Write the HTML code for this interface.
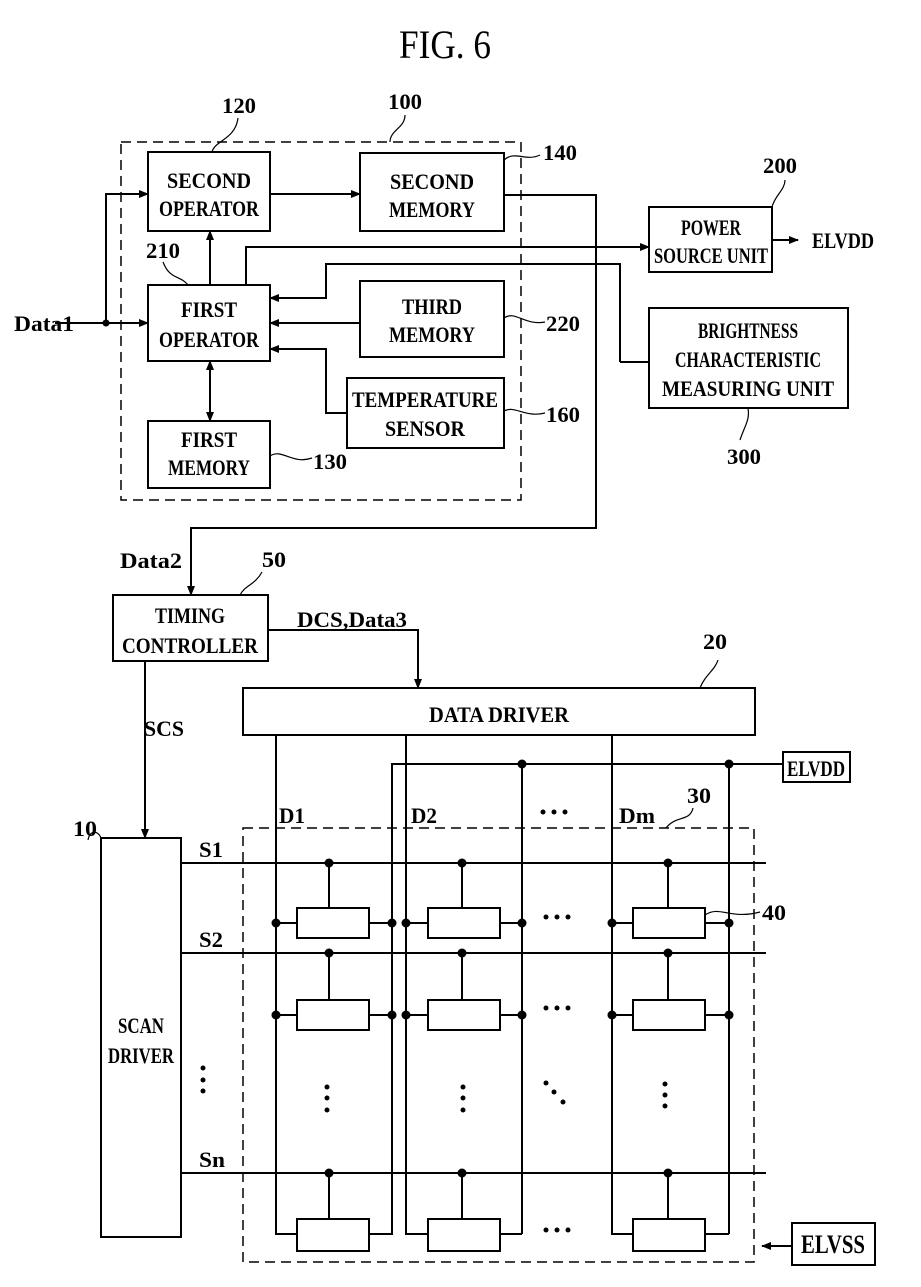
<!DOCTYPE html>
<html><head><meta charset="utf-8"><style>html,body{margin:0;padding:0;background:#fff}svg{display:block}</style></head>
<body>
<svg width="921" height="1287" viewBox="0 0 921 1287" xmlns="http://www.w3.org/2000/svg" font-family="Liberation Serif, serif" font-size="22" font-weight="bold">
<defs><marker id="a" markerWidth="10" markerHeight="8" refX="9" refY="4" orient="auto" markerUnits="userSpaceOnUse"><path d="M0,0 L10,4 L0,8 z" fill="#000"/></marker></defs>
<g fill="none" stroke="#000" stroke-width="2">
<rect x="121" y="142" width="400" height="358" stroke-dasharray="10,6" stroke-width="1.5"/>
<rect x="243" y="828" width="511" height="434" stroke-dasharray="10,6" stroke-width="1.5"/>
<rect x="148" y="152" width="122" height="79"/>
<rect x="360" y="153" width="144" height="78"/>
<rect x="148" y="285" width="122" height="76"/>
<rect x="360" y="281" width="144" height="76"/>
<rect x="347" y="378" width="157" height="70"/>
<rect x="148" y="421" width="122" height="67"/>
<rect x="649" y="207" width="123" height="65"/>
<rect x="649" y="308" width="199" height="100"/>
<rect x="113" y="595" width="155" height="66"/>
<rect x="243" y="688" width="512" height="47"/>
<rect x="101" y="838" width="80" height="399"/>
<rect x="783" y="752" width="67" height="30"/>
<rect x="792" y="1223" width="83" height="42"/>
<line x1="55" y1="323" x2="148" y2="323" marker-end="url(#a)"/>
<polyline points="106,323 106,194 148,194" marker-end="url(#a)"/>
<line x1="270" y1="194" x2="360" y2="194" marker-end="url(#a)"/>
<polyline points="504,195 596,195 596,528 191,528 191,595" marker-end="url(#a)"/>
<line x1="210" y1="285" x2="210" y2="231" marker-end="url(#a)"/>
<polyline points="246,285 246,247 649,247" marker-end="url(#a)"/>
<polyline points="620,362 649,362"/>
<polyline points="620,362 620,264 326,264 326,298 270,298" marker-end="url(#a)"/>
<line x1="360" y1="323" x2="270" y2="323" marker-end="url(#a)"/>
<polyline points="347,413 326,413 326,349 270,349" marker-end="url(#a)"/>
<line x1="210" y1="361" x2="210" y2="421" marker-end="url(#a)"/>
<line x1="210" y1="421" x2="210" y2="361" marker-end="url(#a)"/>
<line x1="772" y1="240" x2="798" y2="240" marker-end="url(#a)"/>
<path d="M212,152 C215,140 235,140 238,118" stroke-width="1.2"/>
<path d="M390,142 C390,130 405,128 405,115" stroke-width="1.2"/>
<path d="M504,160 C515,150 525,162 540,155" stroke-width="1.2"/>
<path d="M163,262 C170,280 180,275 188,285" stroke-width="1.2"/>
<path d="M504,318 C515,310 525,326 545,322" stroke-width="1.2"/>
<path d="M504,411 C515,405 525,418 545,413" stroke-width="1.2"/>
<path d="M270,456 C282,448 292,465 312,458" stroke-width="1.2"/>
<path d="M740,440 C745,425 750,420 748,408" stroke-width="1.2"/>
<path d="M772,207 C775,195 785,190 785,180" stroke-width="1.2"/>
<path d="M240,595 C245,585 255,585 262,572" stroke-width="1.2"/>
<path d="M700,688 C705,675 715,670 718,660" stroke-width="1.2"/>
<path d="M101,838 C98,830 90,830 88,840" stroke-width="1.2"/>
<path d="M666,828 C676,815 690,822 693,808" stroke-width="1.2"/>
<path d="M705,915 C720,905 730,920 760,912" stroke-width="1.2"/>
<polyline points="268,630 418,630 418,688" marker-end="url(#a)"/>
<line x1="145" y1="661" x2="145" y2="838" marker-end="url(#a)"/>
<line x1="792" y1="1246" x2="762" y2="1246" marker-end="url(#a)"/>
<polyline points="783,764 392,764 392,1234 370,1234"/>
<line x1="522" y1="764" x2="522" y2="1234"/>
<line x1="729" y1="764" x2="729" y2="1234"/>
<line x1="522" y1="1234" x2="500" y2="1234"/>
<line x1="729" y1="1234" x2="705" y2="1234"/>
<polyline points="276,735 276,1234 297,1234"/>
<polyline points="406,735 406,1234 428,1234"/>
<polyline points="612,735 612,1234 633,1234"/>
<line x1="181" y1="863" x2="766" y2="863"/>
<line x1="181" y1="953" x2="766" y2="953"/>
<line x1="181" y1="1173" x2="766" y2="1173"/>
</g>
<g fill="#fff" stroke="#000" stroke-width="2">
<rect x="297" y="908" width="72" height="30"/><rect x="428" y="908" width="72" height="30"/><rect x="633" y="908" width="72" height="30"/>
<rect x="297" y="1000" width="72" height="30"/><rect x="428" y="1000" width="72" height="30"/><rect x="633" y="1000" width="72" height="30"/>
<rect x="297" y="1219" width="72" height="32"/><rect x="428" y="1219" width="72" height="32"/><rect x="633" y="1219" width="72" height="32"/>
</g>
<g stroke="#000" stroke-width="2">
<line x1="329" y1="863" x2="329" y2="908"/><line x1="462" y1="863" x2="462" y2="908"/><line x1="668" y1="863" x2="668" y2="908"/>
<line x1="329" y1="953" x2="329" y2="1000"/><line x1="462" y1="953" x2="462" y2="1000"/><line x1="668" y1="953" x2="668" y2="1000"/>
<line x1="329" y1="1173" x2="329" y2="1219"/><line x1="462" y1="1173" x2="462" y2="1219"/><line x1="668" y1="1173" x2="668" y2="1219"/>
<line x1="276" y1="923" x2="297" y2="923"/><line x1="369" y1="923" x2="392" y2="923"/>
<line x1="406" y1="923" x2="428" y2="923"/><line x1="500" y1="923" x2="522" y2="923"/>
<line x1="612" y1="923" x2="633" y2="923"/><line x1="705" y1="923" x2="729" y2="923"/>
<line x1="276" y1="1015" x2="297" y2="1015"/><line x1="369" y1="1015" x2="392" y2="1015"/>
<line x1="406" y1="1015" x2="428" y2="1015"/><line x1="500" y1="1015" x2="522" y2="1015"/>
<line x1="612" y1="1015" x2="633" y2="1015"/><line x1="705" y1="1015" x2="729" y2="1015"/>
</g>
<g fill="#000">
<circle cx="106" cy="323" r="3.5"/>
<circle cx="522" cy="764" r="4.5"/><circle cx="729" cy="764" r="4.5"/>
<circle cx="329" cy="863" r="4.5"/><circle cx="462" cy="863" r="4.5"/><circle cx="668" cy="863" r="4.5"/>
<circle cx="329" cy="953" r="4.5"/><circle cx="462" cy="953" r="4.5"/><circle cx="668" cy="953" r="4.5"/>
<circle cx="329" cy="1173" r="4.5"/><circle cx="462" cy="1173" r="4.5"/><circle cx="668" cy="1173" r="4.5"/>
<circle cx="276" cy="923" r="4.5"/><circle cx="392" cy="923" r="4.5"/><circle cx="406" cy="923" r="4.5"/><circle cx="522" cy="923" r="4.5"/><circle cx="612" cy="923" r="4.5"/><circle cx="729" cy="923" r="4.5"/>
<circle cx="276" cy="1015" r="4.5"/><circle cx="392" cy="1015" r="4.5"/><circle cx="406" cy="1015" r="4.5"/><circle cx="522" cy="1015" r="4.5"/><circle cx="612" cy="1015" r="4.5"/><circle cx="729" cy="1015" r="4.5"/>
<circle cx="543" cy="812" r="2.5"/><circle cx="554" cy="812" r="2.5"/><circle cx="565" cy="812" r="2.5"/>
<circle cx="546" cy="917" r="2.5"/><circle cx="557" cy="917" r="2.5"/><circle cx="568" cy="917" r="2.5"/>
<circle cx="546" cy="1008" r="2.5"/><circle cx="557" cy="1008" r="2.5"/><circle cx="568" cy="1008" r="2.5"/>
<circle cx="546" cy="1230" r="2.5"/><circle cx="557" cy="1230" r="2.5"/><circle cx="568" cy="1230" r="2.5"/>
<circle cx="203" cy="1068" r="2.5"/><circle cx="203" cy="1080" r="2.5"/><circle cx="203" cy="1091" r="2.5"/>
<circle cx="327" cy="1087" r="2.5"/><circle cx="327" cy="1098" r="2.5"/><circle cx="327" cy="1110" r="2.5"/>
<circle cx="463" cy="1087" r="2.5"/><circle cx="463" cy="1098" r="2.5"/><circle cx="463" cy="1110" r="2.5"/>
<circle cx="546" cy="1083" r="2.5"/><circle cx="554" cy="1092" r="2.5"/><circle cx="563" cy="1102" r="2.5"/>
<circle cx="665" cy="1084" r="2.5"/><circle cx="665" cy="1095" r="2.5"/><circle cx="665" cy="1106" r="2.5"/>
</g>
<g fill="#000" text-anchor="middle">
<text x="445" y="58" font-size="40" font-weight="normal" textLength="92" lengthAdjust="spacingAndGlyphs">FIG. 6</text>
<text x="209" y="188" textLength="84" lengthAdjust="spacingAndGlyphs">SECOND</text>
<text x="209" y="216" textLength="100" lengthAdjust="spacingAndGlyphs">OPERATOR</text>
<text x="432" y="189" textLength="84" lengthAdjust="spacingAndGlyphs">SECOND</text>
<text x="432" y="217" textLength="86" lengthAdjust="spacingAndGlyphs">MEMORY</text>
<text x="209" y="317" textLength="56" lengthAdjust="spacingAndGlyphs">FIRST</text>
<text x="209" y="347" textLength="100" lengthAdjust="spacingAndGlyphs">OPERATOR</text>
<text x="432" y="314" textLength="60" lengthAdjust="spacingAndGlyphs">THIRD</text>
<text x="432" y="342" textLength="86" lengthAdjust="spacingAndGlyphs">MEMORY</text>
<text x="425" y="407" textLength="146" lengthAdjust="spacingAndGlyphs">TEMPERATURE</text>
<text x="425" y="436" textLength="80" lengthAdjust="spacingAndGlyphs">SENSOR</text>
<text x="209" y="447" textLength="56" lengthAdjust="spacingAndGlyphs">FIRST</text>
<text x="209" y="475" textLength="82" lengthAdjust="spacingAndGlyphs">MEMORY</text>
<text x="711" y="235" textLength="60" lengthAdjust="spacingAndGlyphs">POWER</text>
<text x="711" y="263" textLength="114" lengthAdjust="spacingAndGlyphs">SOURCE UNIT</text>
<text x="748" y="338" textLength="100" lengthAdjust="spacingAndGlyphs">BRIGHTNESS</text>
<text x="748" y="367" textLength="146" lengthAdjust="spacingAndGlyphs">CHARACTERISTIC</text>
<text x="748" y="396" textLength="172" lengthAdjust="spacingAndGlyphs">MEASURING UNIT</text>
<text x="190" y="623" textLength="70" lengthAdjust="spacingAndGlyphs">TIMING</text>
<text x="190" y="653" textLength="136" lengthAdjust="spacingAndGlyphs">CONTROLLER</text>
<text x="499" y="722" textLength="140" lengthAdjust="spacingAndGlyphs">DATA DRIVER</text>
<text x="141" y="1033" textLength="46" lengthAdjust="spacingAndGlyphs">SCAN</text>
<text x="141" y="1063" textLength="66" lengthAdjust="spacingAndGlyphs">DRIVER</text>
<text x="816" y="776" textLength="58" lengthAdjust="spacingAndGlyphs">ELVDD</text>
<text x="833" y="1253" font-size="26" textLength="64" lengthAdjust="spacingAndGlyphs">ELVSS</text>
</g>
<g fill="#000">
<text x="14" y="331" textLength="60" lengthAdjust="spacingAndGlyphs">Data1</text>
<text x="812" y="248" textLength="62" lengthAdjust="spacingAndGlyphs">ELVDD</text>
<text x="222" y="113" textLength="34" lengthAdjust="spacingAndGlyphs">120</text>
<text x="388" y="109" textLength="34" lengthAdjust="spacingAndGlyphs">100</text>
<text x="543" y="160" textLength="34" lengthAdjust="spacingAndGlyphs">140</text>
<text x="146" y="258" textLength="34" lengthAdjust="spacingAndGlyphs">210</text>
<text x="546" y="331" textLength="34" lengthAdjust="spacingAndGlyphs">220</text>
<text x="546" y="422" textLength="34" lengthAdjust="spacingAndGlyphs">160</text>
<text x="313" y="469" textLength="34" lengthAdjust="spacingAndGlyphs">130</text>
<text x="763" y="173" textLength="34" lengthAdjust="spacingAndGlyphs">200</text>
<text x="727" y="464" textLength="34" lengthAdjust="spacingAndGlyphs">300</text>
<text x="120" y="568" textLength="62" lengthAdjust="spacingAndGlyphs">Data2</text>
<text x="262" y="567" textLength="24" lengthAdjust="spacingAndGlyphs">50</text>
<text x="297" y="627" textLength="110" lengthAdjust="spacingAndGlyphs">DCS,Data3</text>
<text x="703" y="649" textLength="24" lengthAdjust="spacingAndGlyphs">20</text>
<text x="144" y="736" textLength="40" lengthAdjust="spacingAndGlyphs">SCS</text>
<text x="73" y="836" textLength="24" lengthAdjust="spacingAndGlyphs">10</text>
<text x="279" y="823" textLength="26" lengthAdjust="spacingAndGlyphs">D1</text>
<text x="411" y="823" textLength="26" lengthAdjust="spacingAndGlyphs">D2</text>
<text x="619" y="823" textLength="36" lengthAdjust="spacingAndGlyphs">Dm</text>
<text x="687" y="803" textLength="24" lengthAdjust="spacingAndGlyphs">30</text>
<text x="762" y="920" textLength="24" lengthAdjust="spacingAndGlyphs">40</text>
<text x="199" y="857" textLength="24" lengthAdjust="spacingAndGlyphs">S1</text>
<text x="199" y="947" textLength="24" lengthAdjust="spacingAndGlyphs">S2</text>
<text x="199" y="1167" textLength="26" lengthAdjust="spacingAndGlyphs">Sn</text>
</g>
</svg>
</body></html>
